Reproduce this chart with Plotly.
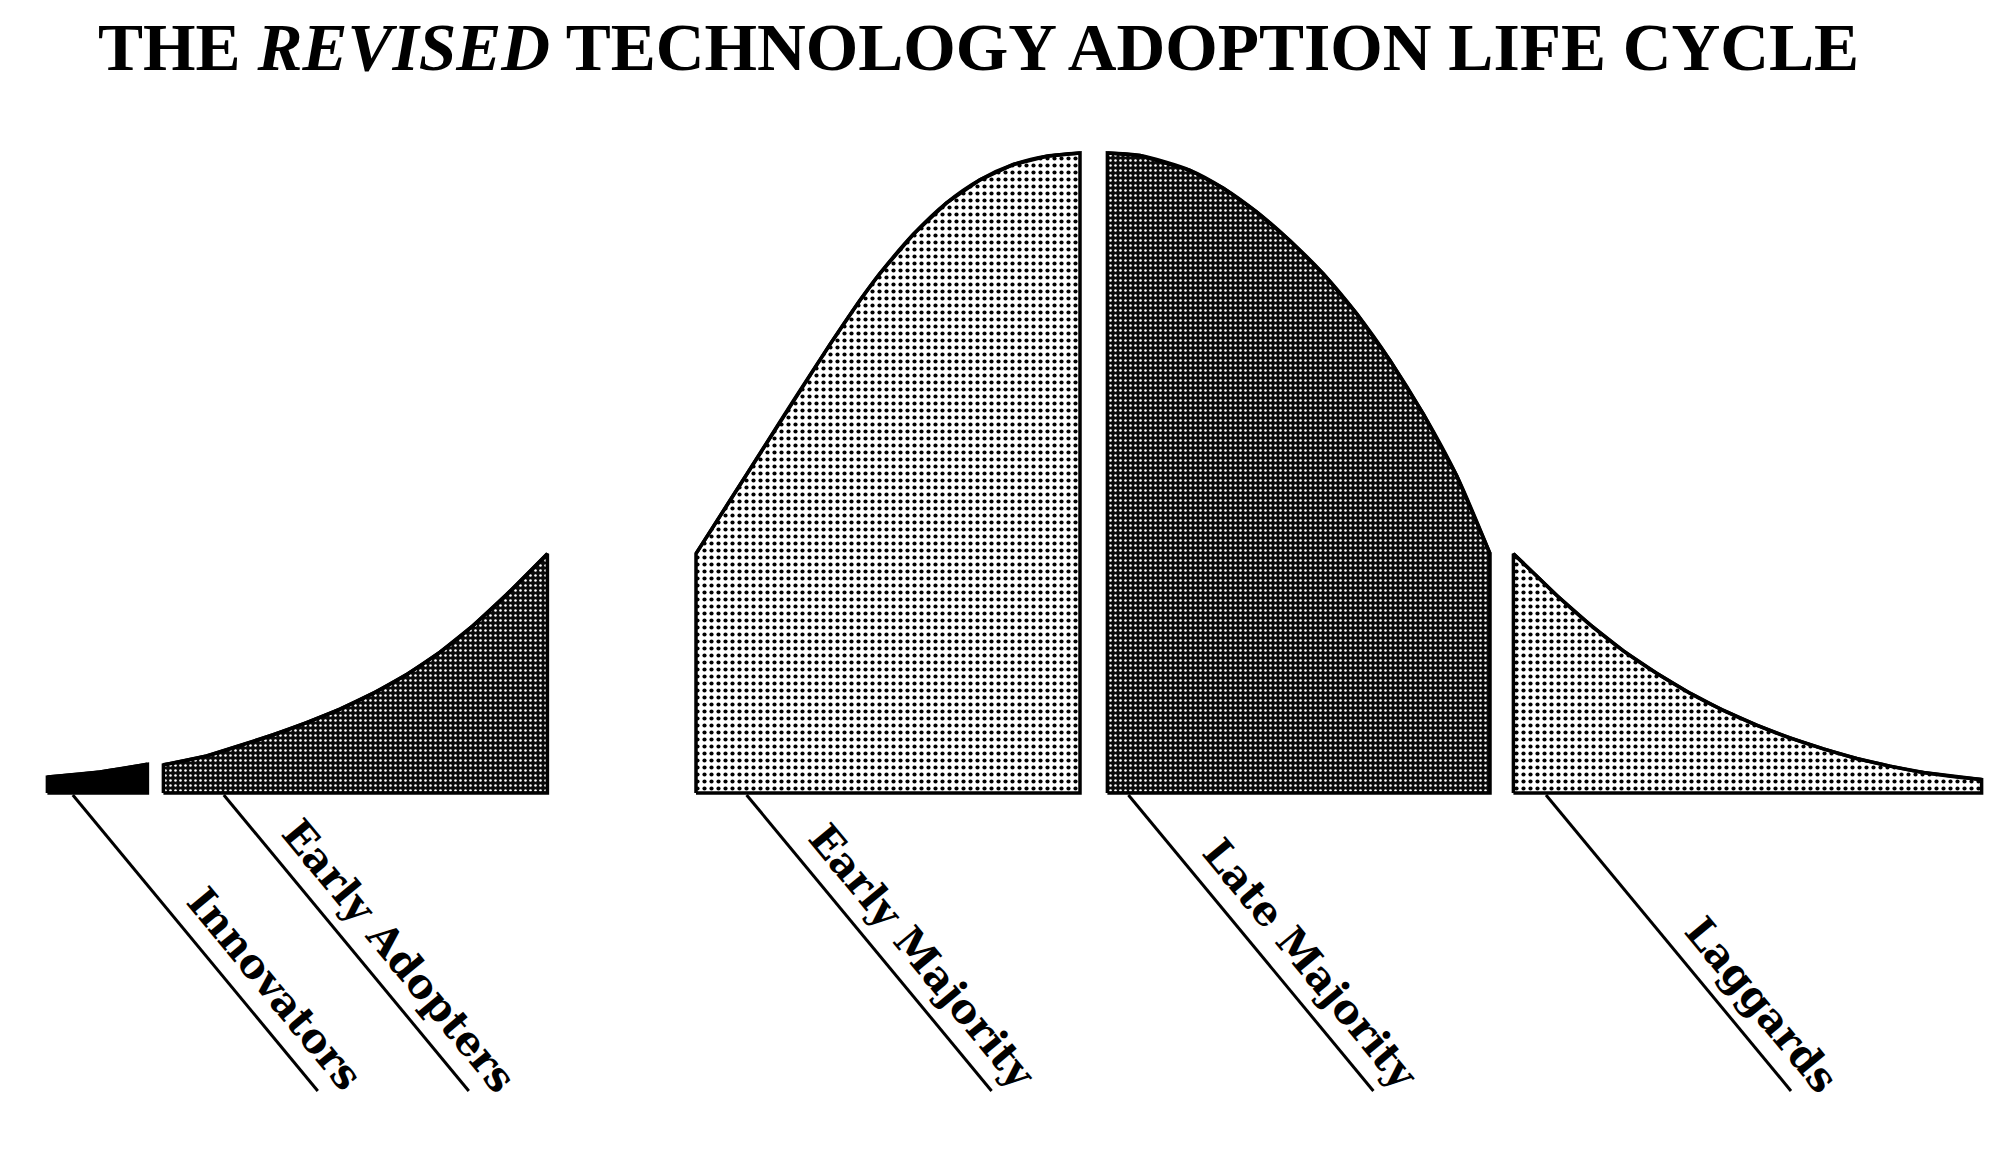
import math
import plotly.graph_objects as go

# ---------------- data ----------------
categories = ["Innovators", "Early Adopters", "Early Majority", "Late Majority", "Laggards"]

# horizontal position (0-100 scale) and curve height (% of peak) for each segment
innovators_x = [2.37, 5.0, 7.37]
innovators_h = [2.5, 3.3, 4.5]

early_adopters_x = [8.17, 10.33, 12.0, 13.67, 15.33, 17.0, 18.67, 20.33, 22.0, 23.67, 25.33, 27.37]
early_adopters_h = [4.4, 5.8, 7.4, 9.1, 11.0, 13.1, 15.6, 18.5, 22.0, 26.2, 31.0, 37.4]

early_majority_x = [34.8, 36.5, 38.17, 39.67, 41.5, 43.0, 44.0, 45.67, 47.33, 49.0, 50.67, 52.33, 54.0]
early_majority_h = [37.4, 45.7, 53.9, 61.3, 70.1, 77.0, 81.2, 87.3, 92.2, 95.8, 98.2, 99.5, 100.0]

late_majority_x = [55.37, 57.0, 59.5, 61.17, 62.83, 64.5, 66.17, 67.83, 69.5, 71.17, 72.83, 74.5]
late_majority_h = [100.0, 99.6, 97.3, 94.5, 90.8, 86.3, 81.1, 74.9, 67.6, 59.2, 49.6, 37.4]

laggards_x = [75.67, 77.0, 77.83, 79.5, 81.17, 82.83, 84.5, 86.17, 87.83, 89.5, 91.17, 92.83, 94.5, 96.17, 97.83, 99.08]
laggards_h = [37.4, 33.4, 30.9, 26.3, 22.2, 18.7, 15.6, 12.9, 10.6, 8.6, 6.9, 5.4, 4.2, 3.2, 2.5, 2.1]

# where each label's leader line leaves the baseline (same 0-100 scale)
label_base_x = [3.64, 11.19, 37.33, 56.42, 77.3]

segments_x = [innovators_x, early_adopters_x, early_majority_x, late_majority_x, laggards_x]
segments_h = [innovators_h, early_adopters_h, early_majority_h, late_majority_h, laggards_h]

# ---------------- styling / geometry ----------------
W, H = 2000, 1159
BODY = 8  # default page margin around the plot div
PX_PER_X = 20.0
PX_PER_Y = 6.4
BASE_PX = 793.0
X_RANGE = [BODY / PX_PER_X, BODY / PX_PER_X + W / PX_PER_X]
Y_TOP = (BASE_PX - BODY) / PX_PER_Y
Y_RANGE = [Y_TOP - H / PX_PER_Y, Y_TOP]

solid_black = dict(kind="solid")
light = dict(kind="pattern", shape=".", fg="#000000", bg="#ffffff", size=7, solidity=0.28)
dark = dict(kind="pattern", shape=".", fg="#ffffff", bg="#0a0a0a", size=5, solidity=0.2)
styles = [solid_black, dark, light, dark, light]

OUTLINE = 3.5
fig = go.Figure()

for xs, hs, st in zip(segments_x, segments_h, styles):
    px_ = [xs[0]] + xs + [xs[-1], xs[0]]
    py_ = [0] + hs + [0, 0]
    kw = dict(x=px_, y=py_, mode="lines", fill="toself",
              line=dict(color="black", width=OUTLINE), hoverinfo="skip", showlegend=False)
    if st["kind"] == "solid":
        kw["fillcolor"] = "#000000"
    else:
        kw["fillcolor"] = st["bg"]
        kw["fillpattern"] = dict(shape=st["shape"], fgcolor=st["fg"], bgcolor=st["bg"],
                                 size=st["size"], solidity=st["solidity"], fillmode="replace")
    fig.add_trace(go.Scatter(**kw))
    # smooth top curve drawn over the polygon edge
    fig.add_trace(go.Scatter(x=xs, y=hs, mode="lines",
                             line=dict(color="black", width=OUTLINE, shape="spline", smoothing=0.8),
                             hoverinfo="skip", showlegend=False))

# leader lines + rotated labels
LINE_DX_PX, LINE_DY_PX = 245.0, 296.0
L = math.hypot(LINE_DX_PX, LINE_DY_PX)
dx_u, dy_u = LINE_DX_PX / L, LINE_DY_PX / L        # along-line unit (px, y down)
nx_u, ny_u = dy_u, -dx_u                           # perpendicular, towards upper right
angle = math.degrees(math.atan2(LINE_DY_PX, LINE_DX_PX))
PER_CHAR = 10.6
PERP = 32.0
y0 = -0.3

for name, bx in zip(categories, label_base_x):
    x1 = bx + LINE_DX_PX / PX_PER_X
    y1 = y0 - LINE_DY_PX / PX_PER_Y
    fig.add_trace(go.Scatter(x=[bx, x1], y=[y0, y1], mode="lines",
                             line=dict(color="black", width=3),
                             hoverinfo="skip", showlegend=False))
    back = PER_CHAR * len(name)
    cx_px = -dx_u * back + nx_u * PERP
    cy_px = -dy_u * back + ny_u * PERP
    fig.add_annotation(x=x1 + cx_px / PX_PER_X, y=y1 - cy_px / PX_PER_Y,
                       text=name, showarrow=False, textangle=angle,
                       xanchor="center", yanchor="middle",
                       font=dict(family="DejaVu Serif", size=41, color="black", weight="bold"))

fig.add_annotation(xref="paper", yref="paper", x=(978 - BODY) / W, y=1 - (47 - BODY) / H,
                   text="<b>THE <i>REVISED</i> TECHNOLOGY ADOPTION LIFE CYCLE</b>",
                   showarrow=False, xanchor="center", yanchor="middle",
                   font=dict(family="Liberation Serif", size=67.5, color="black"))

fig.update_layout(width=W, height=H, autosize=False,
                  margin=dict(l=0, r=0, t=0, b=0),
                  paper_bgcolor="white", plot_bgcolor="white",
                  xaxis=dict(range=X_RANGE, visible=False, fixedrange=True),
                  yaxis=dict(range=Y_RANGE, visible=False, fixedrange=True),
                  showlegend=False)

fig.write_html("out.html")
